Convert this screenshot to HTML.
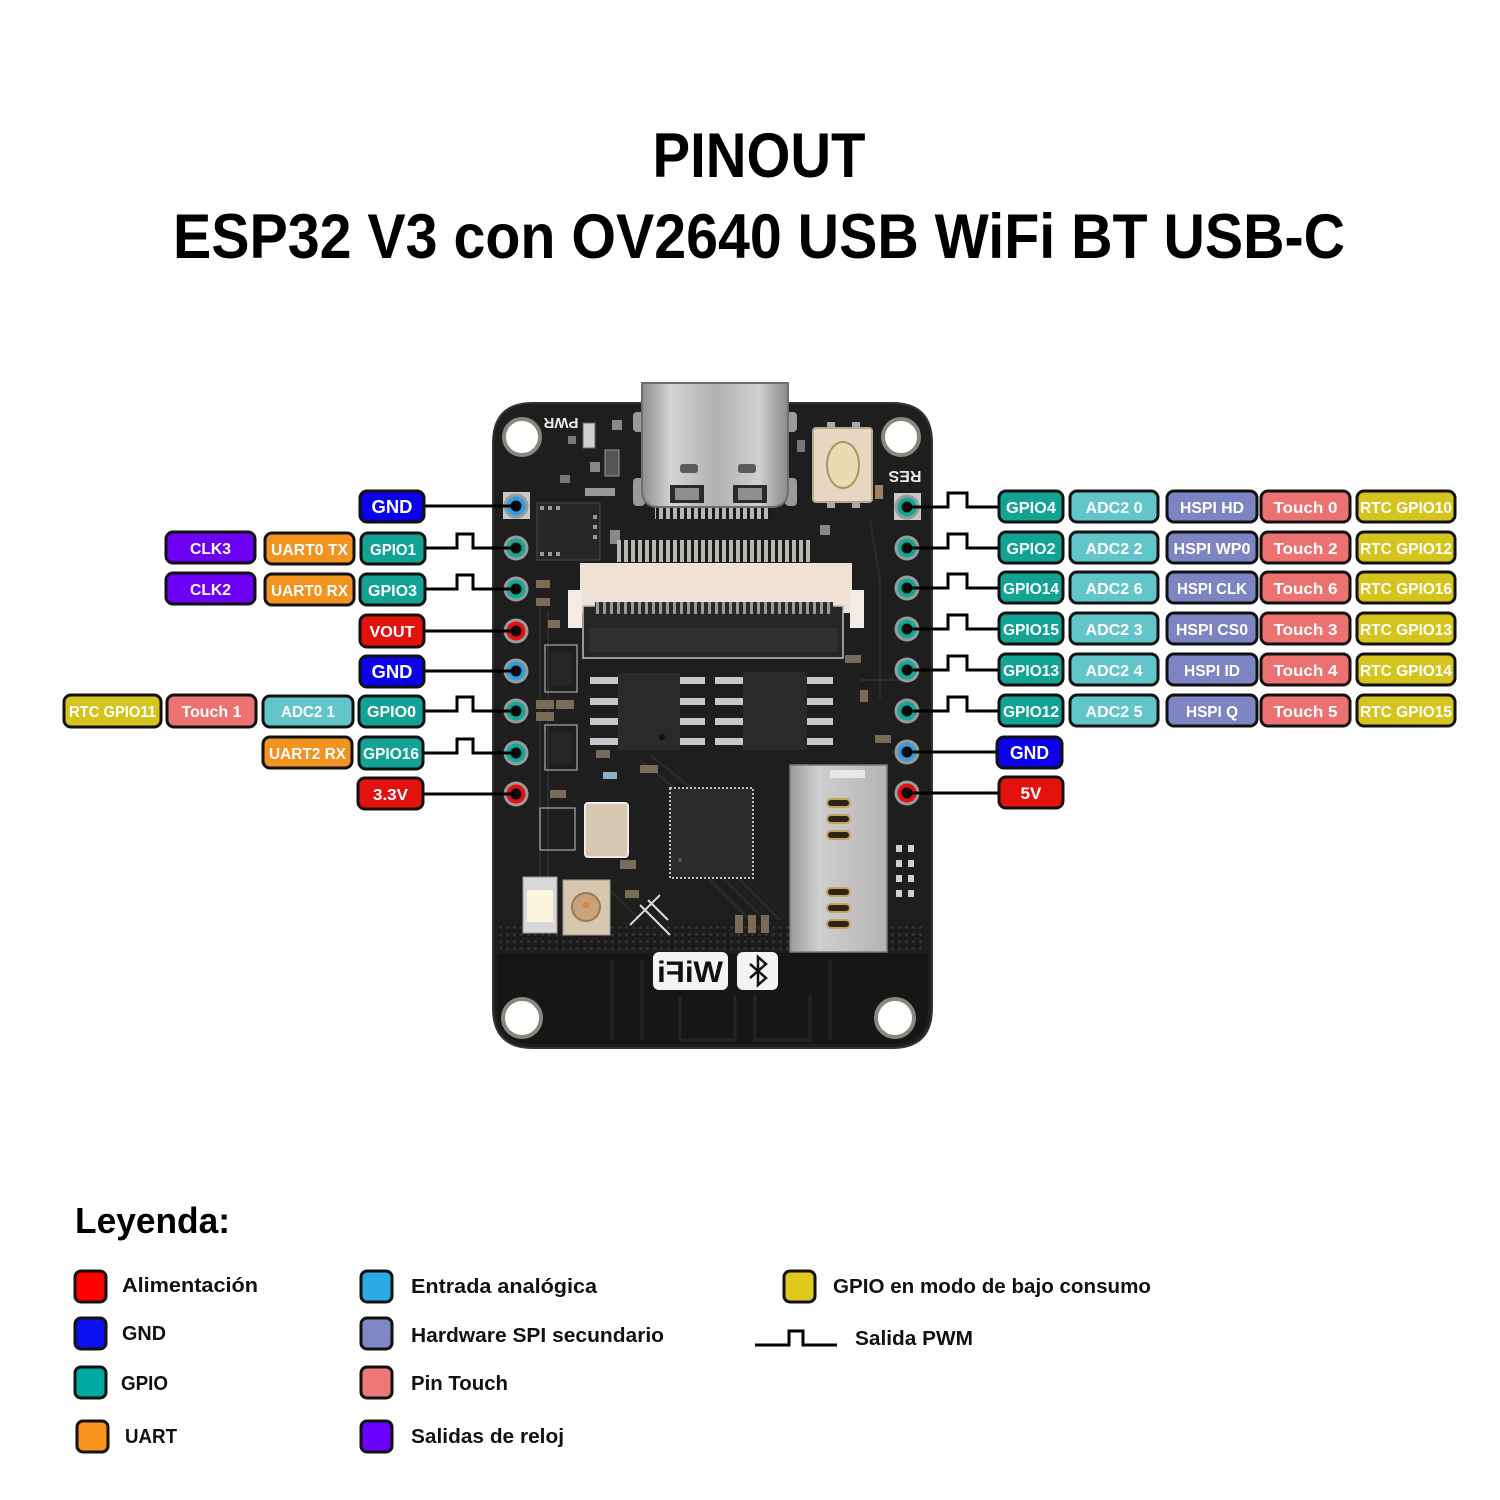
<!DOCTYPE html>
<html><head><meta charset="utf-8"><style>
html,body{margin:0;padding:0;background:#fff;}
svg{display:block;}
text{font-family:"Liberation Sans",Arial,sans-serif;font-weight:bold;}
</style></head><body>
<svg width="1500" height="1500" viewBox="0 0 1500 1500" xmlns="http://www.w3.org/2000/svg">
<defs>
<linearGradient id="silver" x1="0" y1="0" x2="1" y2="0">
<stop offset="0" stop-color="#8e8e8e"/><stop offset="0.2" stop-color="#d4d4d4"/><stop offset="0.5" stop-color="#b0b0b0"/><stop offset="0.8" stop-color="#d0d0d0"/><stop offset="1" stop-color="#8a8a8a"/>
</linearGradient>
<linearGradient id="sd" x1="0" y1="0" x2="1" y2="0">
<stop offset="0" stop-color="#9c9c9c"/><stop offset="0.3" stop-color="#cfcfcf"/><stop offset="1" stop-color="#b4b4b4"/>
</linearGradient>
<pattern id="pins" width="7" height="20" patternUnits="userSpaceOnUse">
<rect width="7" height="20" fill="#1a1a1a"/><rect x="1" width="4" height="20" fill="#b8b8b0"/>
</pattern>
<pattern id="pins2" width="7" height="20" patternUnits="userSpaceOnUse">
<rect width="7" height="20" fill="#2a2a2a"/><rect x="1" width="3" height="20" fill="#9a9a9a"/>
</pattern>
<pattern id="vias" width="7" height="7" patternUnits="userSpaceOnUse">
<rect width="7" height="7" fill="#1c1c1c"/><circle cx="3.5" cy="3.5" r="1.3" fill="#3a3a3a"/>
</pattern>
</defs>

<!-- Title -->
<text x="759" y="177" font-size="63" text-anchor="middle" textLength="213" lengthAdjust="spacingAndGlyphs" fill="#000">PINOUT</text>
<text x="759" y="258" font-size="63" text-anchor="middle" textLength="1172" lengthAdjust="spacingAndGlyphs" fill="#000">ESP32 V3 con OV2640 USB WiFi BT USB-C</text>

<!-- Board -->
<g>
<path d="M533,403 H892 Q932,403 932,443 V1008 Q932,1048 892,1048 H533 Q493,1048 493,1008 V443 Q493,403 533,403Z" fill="#1e1e1e" stroke="#333" stroke-width="2"/>
<!-- antenna area -->
<path d="M497,953 H928 V1008 Q928,1044 892,1044 H533 Q497,1044 497,1008Z" fill="#161616"/>
<g fill="none" stroke="#242424" stroke-width="3">
<path d="M612,960 V1040 M642,960 V1040 M680,995 V1040 H735 V995 M755,995 V1040 H810 V995 M830,960 V1040"/>
</g>
<rect x="500" y="925" width="290" height="26" fill="url(#vias)"/>
<rect x="880" y="925" width="45" height="26" fill="url(#vias)"/>
<!-- traces -->
<g fill="none" stroke="#2c2c2c" stroke-width="2">
<path d="M540,600 V900 M548,610 V880 M700,870 L760,930 M710,865 L770,925 M720,860 L780,920 M640,760 L690,800 M650,755 L700,795"/>
<path d="M870,520 L880,580 L880,700 M860,680 H900 M600,880 L640,920"/>
</g>
<!-- holes -->
<g fill="#ffffff" stroke="#8a887e" stroke-width="4">
<circle cx="522" cy="437" r="18"/>
<circle cx="901" cy="437" r="18"/>
<circle cx="522" cy="1018" r="19"/>
<circle cx="895" cy="1018" r="19"/>
</g>
<!-- USB-C -->
<rect x="633" y="412" width="12" height="20" rx="4" fill="#9a9a9a"/>
<rect x="633" y="478" width="12" height="28" rx="4" fill="#9a9a9a"/>
<rect x="785" y="412" width="12" height="20" rx="4" fill="#9a9a9a"/>
<rect x="785" y="478" width="12" height="28" rx="4" fill="#9a9a9a"/>
<rect x="655" y="503" width="116" height="16" fill="url(#pins)"/>
<path d="M642,383 H788 V490 Q788,507 771,507 H659 Q642,507 642,490Z" fill="url(#silver)" stroke="#6e6e6e" stroke-width="2"/>
<rect x="670" y="485" width="34" height="18" fill="#2a2a2a"/><rect x="675" y="488" width="24" height="12" fill="#8e8e8e"/>
<rect x="733" y="485" width="34" height="18" fill="#2a2a2a"/><rect x="738" y="488" width="24" height="12" fill="#8e8e8e"/>
<rect x="680" y="464" width="18" height="9" rx="3" fill="#5a5a5a"/>
<rect x="738" y="464" width="18" height="9" rx="3" fill="#5a5a5a"/>
<!-- button -->
<rect x="813" y="428" width="59" height="74" rx="3" fill="#e6d6c2" stroke="#b9a890" stroke-width="2"/>
<ellipse cx="843" cy="465" rx="16" ry="23" fill="#eadcb0" stroke="#a89468" stroke-width="2"/>
<rect x="827" y="422" width="8" height="6" fill="#aaa"/><rect x="852" y="422" width="8" height="6" fill="#aaa"/>
<rect x="827" y="502" width="8" height="6" fill="#aaa"/><rect x="852" y="502" width="8" height="6" fill="#aaa"/>
<!-- silk text -->
<text x="561" y="418" font-size="15" fill="#e8e8e8" text-anchor="middle" transform="rotate(180 561 418)">PWR</text>
<text x="905" y="471" font-size="16" fill="#e8e8e8" text-anchor="middle" transform="rotate(180 905 471)">RES</text>
<!-- small parts top -->
<rect x="583" y="423" width="12" height="25" fill="#d0d0d0" stroke="#666"/>
<rect x="605" y="450" width="14" height="26" fill="#555" stroke="#999"/>
<rect x="612" y="420" width="10" height="10" fill="#888"/>
<rect x="568" y="436" width="8" height="8" fill="#777"/>
<rect x="590" y="462" width="10" height="10" fill="#888"/>
<rect x="560" y="475" width="10" height="8" fill="#777"/>
<rect x="585" y="488" width="30" height="8" fill="#9a9a9a"/>
<rect x="797" y="440" width="8" height="12" fill="#777"/>
<rect x="820" y="525" width="10" height="10" fill="#888"/>
<rect x="875" y="485" width="8" height="14" fill="#a08060"/>
<!-- QFN -->
<rect x="537" y="503" width="63" height="57" fill="#262626" stroke="#4a4a4a"/>
<g fill="#9a9a9a"><rect x="540" y="506" width="4" height="4"/><rect x="548" y="506" width="4" height="4"/><rect x="556" y="506" width="4" height="4"/><rect x="540" y="552" width="4" height="4"/><rect x="548" y="552" width="4" height="4"/><rect x="556" y="552" width="4" height="4"/><rect x="593" y="515" width="4" height="4"/><rect x="593" y="525" width="4" height="4"/><rect x="593" y="535" width="4" height="4"/></g>
<rect x="610" y="530" width="10" height="14" fill="#888"/>
<!-- FPC connector -->
<rect x="617" y="540" width="195" height="22" fill="url(#pins)"/>
<rect x="580" y="563" width="272" height="50" fill="#efe1d4"/>
<rect x="568" y="590" width="14" height="38" fill="#f2ece4"/>
<rect x="850" y="590" width="14" height="38" fill="#f2ece4"/>
<rect x="583" y="606" width="260" height="52" fill="#262626" stroke="#bdbdbd" stroke-width="1.5"/>
<rect x="595" y="602" width="238" height="12" fill="url(#pins2)"/>
<rect x="590" y="628" width="248" height="24" fill="#303030"/>
<!-- middle chips -->
<g fill="#c8c8c8">
<rect x="590" y="677" width="28" height="7"/><rect x="590" y="698" width="28" height="7"/><rect x="590" y="718" width="28" height="7"/><rect x="590" y="738" width="28" height="7"/>
<rect x="680" y="677" width="25" height="7"/><rect x="680" y="698" width="25" height="7"/><rect x="680" y="718" width="25" height="7"/><rect x="680" y="738" width="25" height="7"/>
<rect x="715" y="677" width="28" height="7"/><rect x="715" y="698" width="28" height="7"/><rect x="715" y="718" width="28" height="7"/><rect x="715" y="738" width="28" height="7"/>
<rect x="807" y="677" width="26" height="7"/><rect x="807" y="698" width="26" height="7"/><rect x="807" y="718" width="26" height="7"/><rect x="807" y="738" width="26" height="7"/>
</g>
<rect x="618" y="673" width="62" height="77" fill="#2a2a2a"/>
<rect x="743" y="672" width="64" height="78" fill="#2a2a2a"/>
<circle cx="662" cy="737" r="3" fill="#111"/>
<!-- left small parts -->
<g fill="#7a6a58">
<rect x="536" y="580" width="14" height="8"/><rect x="536" y="598" width="14" height="8"/><rect x="548" y="620" width="12" height="8"/>
<rect x="536" y="700" width="18" height="9"/><rect x="556" y="700" width="18" height="9"/><rect x="536" y="712" width="18" height="9"/>
<rect x="550" y="752" width="16" height="8"/><rect x="596" y="750" width="14" height="8"/><rect x="550" y="790" width="16" height="8"/>
<rect x="640" y="765" width="18" height="8"/><rect x="620" y="860" width="16" height="9"/><rect x="625" y="890" width="14" height="8"/>
<rect x="845" y="655" width="16" height="8"/><rect x="860" y="690" width="8" height="12"/><rect x="875" y="735" width="16" height="8"/>
<rect x="735" y="915" width="8" height="18"/><rect x="748" y="915" width="8" height="18"/><rect x="761" y="915" width="8" height="18"/>
</g>
<g fill="none" stroke="#aaa" stroke-width="1.2">
<rect x="545" y="645" width="32" height="47"/><rect x="545" y="725" width="32" height="45"/><rect x="540" y="808" width="35" height="42"/>
</g>
<rect x="550" y="652" width="22" height="34" fill="#252525"/>
<rect x="550" y="732" width="22" height="32" fill="#252525"/>
<rect x="603" y="772" width="14" height="7" fill="#8fb0c0"/>
<!-- ESP32 -->
<rect x="670" y="788" width="83" height="90" fill="#2b2b2b" stroke="#bdbdbd" stroke-width="2" stroke-dasharray="2 2"/>
<circle cx="680" cy="860" r="2" fill="#555"/>
<!-- crystal -->
<rect x="585" y="803" width="43" height="54" rx="3" fill="#d6c8b0" stroke="#ececec" stroke-width="2"/>
<!-- SD slot -->
<rect x="790" y="765" width="97" height="187" fill="url(#sd)" stroke="#7a7a7a" stroke-width="1.5"/>
<rect x="830" y="770" width="35" height="8" fill="#e8e8e8"/>
<g fill="#2e2416" stroke="#c6a25a" stroke-width="2">
<rect x="827" y="799" width="23" height="8" rx="4"/><rect x="827" y="815" width="23" height="8" rx="4"/><rect x="827" y="831" width="23" height="8" rx="4"/>
<rect x="827" y="888" width="23" height="8" rx="4"/><rect x="827" y="904" width="23" height="8" rx="4"/><rect x="827" y="920" width="23" height="8" rx="4"/>
</g>
<!-- right small parts -->
<g fill="#cfcfcf"><rect x="896" y="845" width="6" height="7"/><rect x="908" y="845" width="6" height="7"/><rect x="896" y="860" width="6" height="7"/><rect x="908" y="860" width="6" height="7"/><rect x="896" y="875" width="6" height="7"/><rect x="908" y="875" width="6" height="7"/><rect x="896" y="890" width="6" height="7"/><rect x="908" y="890" width="6" height="7"/></g>
<!-- LED + antenna connector -->
<rect x="523" y="877" width="34" height="56" fill="#d9d9d9" stroke="#999"/>
<rect x="527" y="890" width="26" height="32" fill="#fbf5dc"/>
<rect x="563" y="880" width="47" height="55" fill="#d6c7ae" stroke="#999"/>
<circle cx="586" cy="907" r="14" fill="#c8a27a" stroke="#9a7a55" stroke-width="2"/>
<circle cx="586" cy="905" r="3" fill="#e08030"/>
<g fill="none" stroke="#ddd" stroke-width="2"><path d="M640,905 L670,935 M660,895 L630,925 M648,900 L668,920"/></g>
<!-- WiFi / BT -->
<rect x="653" y="952" width="75" height="38" rx="6" fill="#f4f4f4"/>
<text x="-690" y="982" font-size="30" fill="#111" text-anchor="middle" textLength="66" lengthAdjust="spacingAndGlyphs" transform="scale(-1,1)">WiFi</text>
<rect x="737" y="952" width="41" height="38" rx="6" fill="#f4f4f4"/>
<path d="M750,964 L766,978 L758,985 V957 L766,964 L750,978" fill="none" stroke="#111" stroke-width="2.5"/>
</g>

<!-- Pins -->
<g>
<g stroke="none">
<rect x="503" y="492" width="27" height="27" fill="#c8c8c8"/>
<rect x="894" y="493" width="27" height="27" fill="#c8c8c8"/>
</g>
<g fill="#9a9a9a">
<circle cx="516" cy="506" r="12.5"/><circle cx="516" cy="548" r="12.5"/><circle cx="516" cy="589" r="12.5"/><circle cx="516" cy="631" r="12.5"/><circle cx="516" cy="671" r="12.5"/><circle cx="516" cy="711" r="12.5"/><circle cx="516" cy="753" r="12.5"/><circle cx="516" cy="794" r="12.5"/>
<circle cx="907" cy="507" r="12.5"/><circle cx="907" cy="548" r="12.5"/><circle cx="907" cy="588" r="12.5"/><circle cx="907" cy="629" r="12.5"/><circle cx="907" cy="670" r="12.5"/><circle cx="907" cy="711" r="12.5"/><circle cx="907" cy="752" r="12.5"/><circle cx="907" cy="793" r="12.5"/>
</g>
<circle cx="516" cy="506" r="9.5" fill="#2b9fe2"/>
<circle cx="516" cy="548" r="9.5" fill="#10a897"/>
<circle cx="516" cy="589" r="9.5" fill="#10a897"/>
<circle cx="516" cy="631" r="9.5" fill="#e21010"/>
<circle cx="516" cy="671" r="9.5" fill="#2b9fe2"/>
<circle cx="516" cy="711" r="9.5" fill="#10a897"/>
<circle cx="516" cy="753" r="9.5" fill="#10a897"/>
<circle cx="516" cy="794" r="9.5" fill="#e21010"/>
<circle cx="907" cy="507" r="9.5" fill="#10a897"/>
<circle cx="907" cy="548" r="9.5" fill="#10a897"/>
<circle cx="907" cy="588" r="9.5" fill="#10a897"/>
<circle cx="907" cy="629" r="9.5" fill="#10a897"/>
<circle cx="907" cy="670" r="9.5" fill="#10a897"/>
<circle cx="907" cy="711" r="9.5" fill="#10a897"/>
<circle cx="907" cy="752" r="9.5" fill="#2b9fe2"/>
<circle cx="907" cy="793" r="9.5" fill="#e21010"/>
<g fill="#0a0a0a">
<circle cx="516" cy="506" r="5.5"/><circle cx="516" cy="548" r="5.5"/><circle cx="516" cy="589" r="5.5"/><circle cx="516" cy="631" r="5.5"/><circle cx="516" cy="671" r="5.5"/><circle cx="516" cy="711" r="5.5"/><circle cx="516" cy="753" r="5.5"/><circle cx="516" cy="794" r="5.5"/>
<circle cx="907" cy="507" r="5.5"/><circle cx="907" cy="548" r="5.5"/><circle cx="907" cy="588" r="5.5"/><circle cx="907" cy="629" r="5.5"/><circle cx="907" cy="670" r="5.5"/><circle cx="907" cy="711" r="5.5"/><circle cx="907" cy="752" r="5.5"/><circle cx="907" cy="793" r="5.5"/>
</g>
</g>

<!-- Connector lines -->
<g fill="none" stroke="#000" stroke-width="3">
<path d="M424,506 H516"/>
<path d="M424,548 H457 V534 H473 V548 H516"/>
<path d="M424,589 H457 V575 H473 V589 H516"/>
<path d="M424,631 H516"/>
<path d="M424,671 H516"/>
<path d="M424,711 H457 V697 H473 V711 H516"/>
<path d="M424,753 H457 V739 H473 V753 H516"/>
<path d="M423,794 H516"/>
<path d="M907,507 H948 V493 H967 V507 H999"/>
<path d="M907,548 H948 V534 H967 V548 H999"/>
<path d="M907,588 H948 V574 H967 V588 H999"/>
<path d="M907,629 H948 V615 H967 V629 H999"/>
<path d="M907,670 H948 V656 H967 V670 H999"/>
<path d="M907,711 H948 V697 H967 V711 H999"/>
<path d="M907,752 H997"/>
<path d="M907,793 H999"/>
</g>

<!-- Label boxes -->
<g stroke="#111" stroke-width="3">
<!-- left -->
<rect x="360" y="491" width="64" height="31" rx="7" fill="#0a00ea"/>
<rect x="166" y="532" width="89" height="31" rx="7" fill="#6c00f5"/>
<rect x="265" y="533" width="89" height="31" rx="7" fill="#f2921f"/>
<rect x="361" y="533" width="64" height="31" rx="7" fill="#13a394"/>
<rect x="166" y="573" width="89" height="31" rx="7" fill="#6c00f5"/>
<rect x="265" y="574" width="89" height="31" rx="7" fill="#f2921f"/>
<rect x="360" y="574" width="65" height="31" rx="7" fill="#13a394"/>
<rect x="360" y="615" width="64" height="32" rx="7" fill="#e3120f"/>
<rect x="360" y="656" width="64" height="31" rx="7" fill="#0a00ea"/>
<rect x="64" y="695" width="97" height="32" rx="7" fill="#d6c41e"/>
<rect x="167" y="695" width="89" height="32" rx="7" fill="#ec7272"/>
<rect x="263" y="696" width="90" height="31" rx="7" fill="#62c5c9"/>
<rect x="359" y="696" width="65" height="31" rx="7" fill="#13a394"/>
<rect x="263" y="737" width="89" height="31" rx="7" fill="#f2921f"/>
<rect x="359" y="737" width="64" height="32" rx="7" fill="#13a394"/>
<rect x="358" y="778" width="65" height="31" rx="7" fill="#e3120f"/>
<!-- right -->
<rect x="999" y="491" width="64" height="31" rx="7" fill="#13a394"/>
<rect x="1070" y="491" width="88" height="31" rx="7" fill="#62c5c9"/>
<rect x="1167" y="491" width="90" height="31" rx="7" fill="#7d84c2"/>
<rect x="1261" y="491" width="89" height="31" rx="7" fill="#ec7272"/>
<rect x="1357" y="491" width="98" height="31" rx="7" fill="#d6c41e"/>
<rect x="999" y="532" width="64" height="31" rx="7" fill="#13a394"/>
<rect x="1070" y="532" width="88" height="31" rx="7" fill="#62c5c9"/>
<rect x="1167" y="532" width="90" height="31" rx="7" fill="#7d84c2"/>
<rect x="1261" y="532" width="89" height="31" rx="7" fill="#ec7272"/>
<rect x="1357" y="532" width="98" height="31" rx="7" fill="#d6c41e"/>
<rect x="999" y="572" width="64" height="31" rx="7" fill="#13a394"/>
<rect x="1070" y="572" width="88" height="31" rx="7" fill="#62c5c9"/>
<rect x="1167" y="572" width="90" height="31" rx="7" fill="#7d84c2"/>
<rect x="1261" y="572" width="89" height="31" rx="7" fill="#ec7272"/>
<rect x="1357" y="572" width="98" height="31" rx="7" fill="#d6c41e"/>
<rect x="999" y="613" width="64" height="31" rx="7" fill="#13a394"/>
<rect x="1070" y="613" width="88" height="31" rx="7" fill="#62c5c9"/>
<rect x="1167" y="613" width="90" height="31" rx="7" fill="#7d84c2"/>
<rect x="1261" y="613" width="89" height="31" rx="7" fill="#ec7272"/>
<rect x="1357" y="613" width="98" height="31" rx="7" fill="#d6c41e"/>
<rect x="999" y="654" width="64" height="31" rx="7" fill="#13a394"/>
<rect x="1070" y="654" width="88" height="31" rx="7" fill="#62c5c9"/>
<rect x="1167" y="654" width="90" height="31" rx="7" fill="#7d84c2"/>
<rect x="1261" y="654" width="89" height="31" rx="7" fill="#ec7272"/>
<rect x="1357" y="654" width="98" height="31" rx="7" fill="#d6c41e"/>
<rect x="999" y="695" width="64" height="31" rx="7" fill="#13a394"/>
<rect x="1070" y="695" width="88" height="31" rx="7" fill="#62c5c9"/>
<rect x="1167" y="695" width="90" height="31" rx="7" fill="#7d84c2"/>
<rect x="1261" y="695" width="89" height="31" rx="7" fill="#ec7272"/>
<rect x="1357" y="695" width="98" height="31" rx="7" fill="#d6c41e"/>
<rect x="997" y="737" width="65" height="31" rx="7" fill="#0a00ea"/>
<rect x="999" y="777" width="64" height="31" rx="7" fill="#e3120f"/>
</g>

<g fill="#fff" text-anchor="middle" font-size="16">
<!-- left -->
<text x="392" y="513" font-size="18" textLength="41" lengthAdjust="spacingAndGlyphs">GND</text>
<text x="210.5" y="554" textLength="41" lengthAdjust="spacingAndGlyphs">CLK3</text>
<text x="309.5" y="555" textLength="77" lengthAdjust="spacingAndGlyphs">UART0 TX</text>
<text x="393" y="555" textLength="46" lengthAdjust="spacingAndGlyphs">GPIO1</text>
<text x="210.5" y="595" textLength="41" lengthAdjust="spacingAndGlyphs">CLK2</text>
<text x="309.5" y="596" textLength="77" lengthAdjust="spacingAndGlyphs">UART0 RX</text>
<text x="392.5" y="596" textLength="49" lengthAdjust="spacingAndGlyphs">GPIO3</text>
<text x="392" y="637" textLength="45" lengthAdjust="spacingAndGlyphs">VOUT</text>
<text x="392" y="678" font-size="18" textLength="41" lengthAdjust="spacingAndGlyphs">GND</text>
<text x="112.5" y="717" textLength="87" lengthAdjust="spacingAndGlyphs">RTC GPIO11</text>
<text x="211.5" y="717" textLength="60" lengthAdjust="spacingAndGlyphs">Touch 1</text>
<text x="308" y="717" textLength="54" lengthAdjust="spacingAndGlyphs">ADC2 1</text>
<text x="391.5" y="717" textLength="49" lengthAdjust="spacingAndGlyphs">GPIO0</text>
<text x="307.5" y="759" textLength="77" lengthAdjust="spacingAndGlyphs">UART2 RX</text>
<text x="391" y="759" textLength="56" lengthAdjust="spacingAndGlyphs">GPIO16</text>
<text x="390.5" y="800" textLength="35" lengthAdjust="spacingAndGlyphs">3.3V</text>
<!-- right row1 -->
<text x="1031" y="513" textLength="50" lengthAdjust="spacingAndGlyphs">GPIO4</text>
<text x="1114" y="513" textLength="57" lengthAdjust="spacingAndGlyphs">ADC2 0</text>
<text x="1212" y="513" textLength="64" lengthAdjust="spacingAndGlyphs">HSPI HD</text>
<text x="1305.5" y="513" textLength="64" lengthAdjust="spacingAndGlyphs">Touch 0</text>
<text x="1406" y="513" textLength="92" lengthAdjust="spacingAndGlyphs">RTC GPIO10</text>
<!-- row2 -->
<text x="1031" y="554" textLength="49" lengthAdjust="spacingAndGlyphs">GPIO2</text>
<text x="1114" y="554" textLength="57" lengthAdjust="spacingAndGlyphs">ADC2 2</text>
<text x="1212" y="554" textLength="77" lengthAdjust="spacingAndGlyphs">HSPI WP0</text>
<text x="1305.5" y="554" textLength="64" lengthAdjust="spacingAndGlyphs">Touch 2</text>
<text x="1406" y="554" textLength="92" lengthAdjust="spacingAndGlyphs">RTC GPIO12</text>
<!-- row3 -->
<text x="1031" y="594" textLength="56" lengthAdjust="spacingAndGlyphs">GPIO14</text>
<text x="1114" y="594" textLength="57" lengthAdjust="spacingAndGlyphs">ADC2 6</text>
<text x="1212" y="594" textLength="70" lengthAdjust="spacingAndGlyphs">HSPI CLK</text>
<text x="1305.5" y="594" textLength="64" lengthAdjust="spacingAndGlyphs">Touch 6</text>
<text x="1406" y="594" textLength="92" lengthAdjust="spacingAndGlyphs">RTC GPIO16</text>
<!-- row4 -->
<text x="1031" y="635" textLength="56" lengthAdjust="spacingAndGlyphs">GPIO15</text>
<text x="1114" y="635" textLength="57" lengthAdjust="spacingAndGlyphs">ADC2 3</text>
<text x="1212" y="635" textLength="72" lengthAdjust="spacingAndGlyphs">HSPI CS0</text>
<text x="1305.5" y="635" textLength="64" lengthAdjust="spacingAndGlyphs">Touch 3</text>
<text x="1406" y="635" textLength="92" lengthAdjust="spacingAndGlyphs">RTC GPIO13</text>
<!-- row5 -->
<text x="1031" y="676" textLength="56" lengthAdjust="spacingAndGlyphs">GPIO13</text>
<text x="1114" y="676" textLength="57" lengthAdjust="spacingAndGlyphs">ADC2 4</text>
<text x="1212" y="676" textLength="56" lengthAdjust="spacingAndGlyphs">HSPI ID</text>
<text x="1305.5" y="676" textLength="64" lengthAdjust="spacingAndGlyphs">Touch 4</text>
<text x="1406" y="676" textLength="92" lengthAdjust="spacingAndGlyphs">RTC GPIO14</text>
<!-- row6 -->
<text x="1031" y="717" textLength="56" lengthAdjust="spacingAndGlyphs">GPIO12</text>
<text x="1114" y="717" textLength="57" lengthAdjust="spacingAndGlyphs">ADC2 5</text>
<text x="1212" y="717" textLength="52" lengthAdjust="spacingAndGlyphs">HSPI Q</text>
<text x="1305.5" y="717" textLength="64" lengthAdjust="spacingAndGlyphs">Touch 5</text>
<text x="1406" y="717" textLength="92" lengthAdjust="spacingAndGlyphs">RTC GPIO15</text>
<!-- GND, 5V -->
<text x="1029.5" y="759" font-size="18" textLength="39" lengthAdjust="spacingAndGlyphs">GND</text>
<text x="1031" y="799" font-size="17" textLength="21" lengthAdjust="spacingAndGlyphs">5V</text>
</g>

<!-- Legend -->
<text x="75" y="1233" font-size="36" fill="#000" textLength="155" lengthAdjust="spacingAndGlyphs">Leyenda:</text>
<g stroke="#111" stroke-width="3">
<rect x="75" y="1271" width="31" height="31" rx="6" fill="#ff0000"/>
<rect x="75" y="1318" width="31" height="31" rx="6" fill="#0a10f0"/>
<rect x="75" y="1367" width="31" height="31" rx="6" fill="#00a99d"/>
<rect x="77" y="1421" width="31" height="31" rx="6" fill="#f7931e"/>
<rect x="361" y="1271" width="31" height="31" rx="6" fill="#29abe2"/>
<rect x="361" y="1318" width="31" height="31" rx="6" fill="#8088c4"/>
<rect x="361" y="1367" width="31" height="31" rx="6" fill="#ee7777"/>
<rect x="361" y="1421" width="31" height="31" rx="6" fill="#6a00ff"/>
<rect x="784" y="1271" width="31" height="31" rx="6" fill="#e0c81c"/>
</g>
<g fill="#111" font-size="20">
<text x="122" y="1292" textLength="136" lengthAdjust="spacingAndGlyphs">Alimentación</text>
<text x="122" y="1340" textLength="44" lengthAdjust="spacingAndGlyphs">GND</text>
<text x="121" y="1390" textLength="47" lengthAdjust="spacingAndGlyphs">GPIO</text>
<text x="125" y="1443" textLength="52" lengthAdjust="spacingAndGlyphs">UART</text>
<text x="411" y="1293" textLength="186" lengthAdjust="spacingAndGlyphs">Entrada analógica</text>
<text x="411" y="1342" textLength="253" lengthAdjust="spacingAndGlyphs">Hardware SPI secundario</text>
<text x="411" y="1390" textLength="97" lengthAdjust="spacingAndGlyphs">Pin Touch</text>
<text x="411" y="1443" textLength="153" lengthAdjust="spacingAndGlyphs">Salidas de reloj</text>
<text x="833" y="1293" textLength="318" lengthAdjust="spacingAndGlyphs">GPIO en modo de bajo consumo</text>
<text x="855" y="1345" textLength="118" lengthAdjust="spacingAndGlyphs">Salida PWM</text>
</g>
<path d="M755,1345 H789 V1331 H803 V1345 H837" fill="none" stroke="#000" stroke-width="3"/>
</svg>
</body></html>
